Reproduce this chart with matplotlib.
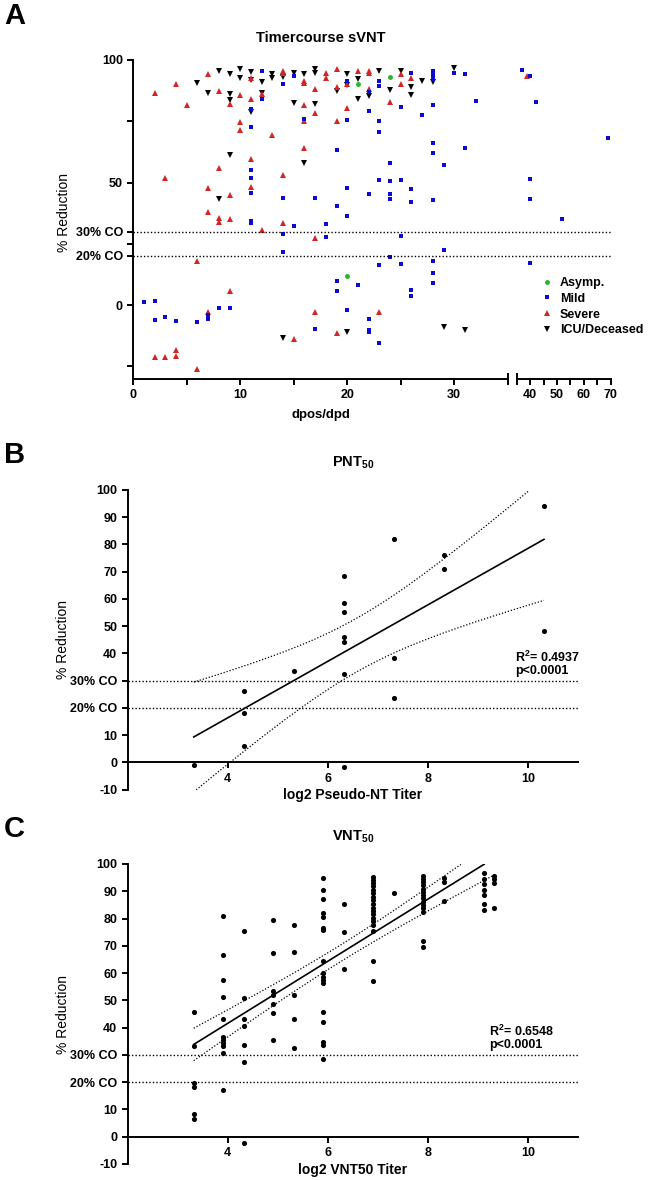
import numpy as np
import matplotlib
matplotlib.use("Agg")
import matplotlib.pyplot as plt
from matplotlib.lines import Line2D

plt.rcParams["font.family"] = ["Liberation Sans", "DejaVu Sans"]
plt.rcParams["font.weight"] = "bold"
plt.rcParams["font.size"] = 9
plt.rcParams["mathtext.fontset"] = "custom"
plt.rcParams["mathtext.rm"] = "Liberation Sans:bold"
plt.rcParams["mathtext.bf"] = "Liberation Sans:bold"
plt.rcParams["axes.linewidth"] = 1.4
for a in ("xtick", "ytick"):
    plt.rcParams[a + ".major.width"] = 1.4
    plt.rcParams[a + ".minor.width"] = 1.4
    plt.rcParams[a + ".major.size"] = 4
    plt.rcParams[a + ".minor.size"] = 4

# ---- panel A: time course (days since positive / since disease onset) ----
asymp_day = [20, 21, 24]
asymp_val = [11.8, 90.2, 92.9]

mild_day = [1, 2, 2, 3, 4, 6, 7, 7, 8, 9,
            11, 11, 11, 11, 11, 11, 11, 12, 12,
            14, 14, 14, 14, 15, 15, 16, 17, 17, 18, 18,
            19, 19, 19, 19, 20, 20, 20, 20, 20, 21,
            22, 22, 22, 22, 22, 22, 23, 23, 23, 23, 23, 23, 23,
            24, 24, 24, 24, 24, 25, 25, 25, 25, 26, 26, 26, 26, 26, 27,
            28, 28, 28, 28, 28, 28, 28, 28, 28, 28, 29, 29, 30, 31, 31, 32,
            37, 40, 40, 40, 40, 42, 52, 69]
mild_val = [1.1, 1.8, -6.1, -4.8, -6.4, -6.9, -4.1, -5.7, -1.2, -1.2,
            80.1, 72.5, 55, 51.7, 45.6, 34.4, 33.6, 95.6, 83.9,
            90.3, 43.8, 29, 21.5, 93.6, 32.2, 76, 43.8, -9.7, 33.2, 27.8,
            63.1, 40.3, 9.7, 5.7, 91.4, 75.6, 47.9, 36.3, -2.2, 8.2,
            87.1, 79.3, 45.4, -5.7, -10.2, -11.2, 91.4, 89.5, 75.2, 70.7, 51, 16.2, -15.5,
            58, 50.6, 45.3, 43.1, 19.5, 80.8, 51.2, 28.3, 16.9, 94.6, 47.3, 41.9, 6.3, 3.8, 77.4,
            95.5, 94, 92.3, 81.8, 66.1, 61.9, 43, 18, 12.9, 9, 57.1, 22.4, 94.8, 94.1, 64.2, 83.3,
            96.1, 93.5, 51.6, 43.3, 17.1, 83, 35, 68]

severe_day = [2, 2, 3, 3, 4, 4, 4, 5, 6, 6,
              7, 7, 7, 7, 8, 8, 8, 8, 9, 9, 9, 9,
              10, 10, 10, 11, 11, 11, 11, 12, 12, 13,
              14, 14, 14, 14, 15, 16, 16, 16, 16, 16,
              17, 17, 17, 17, 18, 18, 19, 19, 19, 19, 20, 20, 21,
              22, 22, 22, 23, 24, 25, 25, 26, 39]
severe_val = [86.7, -21.1, 51.8, -21.1, 90.1, -18.4, -20.7, 81.6, 17.8, -26.1,
              94.3, 47.8, 38, -3, 87.2, 56.1, 35.6, 34, 82, 44.9, 35.2, 5.9,
              85.6, 74.8, 71.6, 92.7, 84.2, 59.5, 48.2, 86.1, 30.5, 69.3,
              95.5, 94.6, 52.9, 33.5, -13.9, 91.6, 90.7, 81.6, 75.2, 64.1,
              88.3, 78.5, 27.2, -2.7, 94.6, 92.7, 96.2, 88.8, 75.2, -11.3, 90.2, 80.3, 95.6,
              95.6, 94.8, 88.3, -2.7, 83, 94.3, 90.1, 92.8, 93.6]

icu_day = [6, 7, 8, 8, 9, 9, 9, 9, 10, 10, 11, 11, 11, 12, 12, 13, 13,
           14, 14, 15, 15, 16, 16, 17, 17, 17, 19, 20, 20, 20, 21, 21, 22, 23,
           24, 25, 26, 26, 27, 28, 29, 30, 31]
icu_val = [90.5, 86.7, 95.4, 43.1, 94.4, 86.3, 83.8, 61.4, 96.5, 92.8, 95.1, 91.8, 78.9,
           90.9, 86.7, 94.3, 92.7, 93.2, -13.6, 94.8, 82.6, 94.3, 57.8, 96.2, 94.8, 82,
           87.2, 94.3, 89.9, -10.9, 92.4, 83.9, 85.3, 95.4,
           87.9, 95.4, 89, 85.7, 91.6, 91.2, -9, 96.6, -10.2]

# ---- panel B: log2 pseudo-NT titer vs % reduction ----
pnt_x = [3.32, 4.32, 4.32, 4.32, 5.32, 6.32, 6.32, 6.32, 6.32, 6.32, 6.32, 6.32,
         7.32, 7.32, 7.32, 8.32, 8.32, 10.32, 10.32]
pnt_y = [-1.0, 26.3, 18.1, 5.8, 33.7, 68.4, 58.5, 55.2, 45.9, 44.1, 32.6, -1.7,
         82.1, 38.3, 23.7, 76.3, 71.0, 94.0, 48.1]

# ---- panel C: log2 VNT50 titer vs % reduction ----
vnt_x = ([3.32] * 6 + [3.91] * 11 + [4.32] * 7 + [4.91] * 7 + [5.32] * 5 + [5.91] * 17
         + [6.32] * 3 + [6.91] * 18 + [7.32] * 1 + [7.91] * 14 + [8.32] * 3
         + [9.12] * 7 + [9.32] * 4)
vnt_y = [45.6, 33.4, 19.6, 18.1, 8.3, 6.4,
         81, 66.5, 57.3, 51.2, 43.3, 36.7, 35.5, 34.2, 33.3, 30.8, 17,
         75.4, 50.7, 43.3, 40.5, 33.7, 27.5, -2.4,
         79.5, 67.5, 53.4, 52.1, 48.5, 45.2, 35.6,
         77.6, 67.8, 51.8, 43.2, 32.4,
         95, 90.6, 87.2, 82.2, 80.4, 76.4, 75.8, 64.4, 59.9, 58.4, 57.5, 56.2, 45.7, 42, 34.6, 33.5, 28.4,
         85.3, 75.2, 61.4,
         95.3, 94.2, 93.0, 91.8, 90.5, 89.3, 88.0, 86.8, 85.5, 84.0, 82.8, 81.5, 80.2, 79.0, 77.8, 75.5, 64.4, 57.1,
         89.4,
         95.6, 94.5, 93.3, 92.2, 91, 89.8, 88.6, 87.4, 86.2, 85, 83.8, 82.5, 71.9, 69.7,
         95, 93.5, 86.6,
         96.7, 94.5, 92.5, 90.5, 88.5, 85.3, 83.1,
         95.6, 94.4, 92.9, 83.7]

W, H = 650, 1180
fig = plt.figure(figsize=(W / 100, H / 100), dpi=100)


def rect(x0, y_top, x1, y_bot):
    return [x0 / W, 1 - y_bot / H, (x1 - x0) / W, (y_bot - y_top) / H]


# ================= A =================
ax1 = fig.add_axes(rect(133.3, 60, 507.7, 378.5))
ax2 = fig.add_axes(rect(516.7, 60, 610.7, 378.5))
ax2.set_facecolor("none")

groups = [
    (asymp_day, asymp_val, "o", "#2db52d", 3.6, "Asymp."),
    (mild_day, mild_val, "s", "#0a0ad0", 3.3, "Mild"),
    (severe_day, severe_val, "^", "#d42424", 3.8, "Severe"),
    (icu_day, icu_val, "v", "black", 3.8, "ICU/Deceased"),
]
handles = []
for ax in (ax1, ax2):
    for d, v, m, c, ms, lab in reversed(groups):
        ax.plot(d, v, ls="none", marker=m, color=c, ms=ms, mew=0)
for d, v, m, c, ms, lab in groups:
    handles.append(Line2D([], [], ls="none", marker=m, color=c, ms=ms, mew=0, label=lab))

for ax in (ax1, ax2):
    ax.set_ylim(-30, 100)
    ax.spines["top"].set_visible(False)
    ax.spines["right"].set_visible(False)
ax1.set_xlim(0, 35)
ax2.set_xlim(35, 70)
ax2.spines["left"].set_visible(False)
ax2.tick_params(axis="y", left=False, labelleft=False)

ax1.set_xticks([0, 10, 20, 30])
ax1.set_xticks([5, 15, 25], minor=True)
ax2.set_xticks([40, 50, 60, 70])
ax2.set_xticks([45, 55, 65], minor=True)
ax1.set_yticks([-25, 0, 20, 25, 30, 50, 75, 100])
ax1.set_yticklabels(["", "0", "20% CO", "", "30% CO", "50", "", "100"])
for ax in (ax1, ax2):
    ax.tick_params(labelsize=9)

# break caps at 35
ax1.plot([1], [0], marker="|", ms=9, mew=1.4, color="k", transform=ax1.transAxes, clip_on=False)
ax2.plot([0], [0], marker="|", ms=9, mew=1.4, color="k", transform=ax2.transAxes, clip_on=False)

span = (610.7 - 133.3) / (507.7 - 133.3)
for lvl in (30, 20):
    ax1.axhline(lvl, xmin=0, xmax=span, ls=(0, (1, 1.5)), color="k", lw=1, clip_on=False)

ax1.set_xlabel("dpos/dpd", fontsize=9.5, fontweight="bold")
ax1.xaxis.label.set_va("center")
ax1.xaxis.set_label_coords(0.5, (378.5 - 415) / 318.5)
ax1.set_ylabel("% Reduction", fontsize=10, fontweight="normal")
ax1.yaxis.label.set_va("center")
ax1.yaxis.set_label_coords((64 - 133.3) / 374.4, 0.52)

fig.text(320.5 / W, 1 - 38 / H, "Timercourse sVNT", ha="center", va="center", fontsize=10.5)
fig.legend(handles=handles, loc="upper left", bbox_to_anchor=(541 / W, 1 - 277 / H),
           bbox_transform=fig.transFigure, frameon=False, fontsize=9, handlelength=1,
           handletextpad=0.5, labelspacing=0.3, borderpad=0, borderaxespad=0)


# ================= B and C =================
def fit_band(x, y, t):
    x = np.asarray(x, float)
    y = np.asarray(y, float)
    n = len(x)
    b, a = np.polyfit(x, y, 1)
    s = np.sqrt(np.sum((y - (a + b * x)) ** 2) / (n - 2))
    sxx = np.sum((x - x.mean()) ** 2)
    xx = np.linspace(x.min(), x.max(), 400)
    yy = a + b * xx
    se = s * np.sqrt(1 / n + (xx - x.mean()) ** 2 / sxx)
    lo, hi = yy - t * se, yy + t * se
    cap = lambda v: np.where(v <= 100, v, np.nan)
    return xx, cap(yy), cap(lo), cap(hi)


def scatter_panel(ax, x, y, t, xlabel, r2, txt_x):
    ax.set_xlim(2, 11)
    ax.set_ylim(-10, 100)
    ax.spines["top"].set_visible(False)
    ax.spines["right"].set_visible(False)
    ax.spines["bottom"].set_position(("data", 0))
    ax.set_xticks([4, 6, 8, 10])
    ax.set_yticks(np.arange(-10, 101, 10))
    ax.set_yticklabels([("30% CO" if v == 30 else "20% CO" if v == 20 else str(v))
                        for v in range(-10, 101, 10)])
    ax.tick_params(labelsize=9)
    for lvl in (30, 20):
        ax.axhline(lvl, ls=(0, (1, 1.5)), color="k", lw=1)
    xx, yy, lo, hi = fit_band(x, y, t)
    ax.plot(xx, yy, color="k", lw=1.2)
    ax.plot(xx, lo, color="k", lw=0.9, ls=(0, (1, 1.5)))
    ax.plot(xx, hi, color="k", lw=0.9, ls=(0, (1, 1.5)))
    ax.plot(x, y, ls="none", marker="o", color="k", ms=3.7, mew=0, clip_on=False)
    ax.text(txt_x, 38.7, "R$^{2}$= " + r2, fontsize=9, va="center", ha="left")
    ax.text(txt_x, 33.6, "p<0.0001", fontsize=9, va="center", ha="left")
    ax.set_xlabel(xlabel, fontsize=10, fontweight="bold")
    ax.xaxis.label.set_va("center")
    ax.xaxis.set_label_coords(0.5, -0.02)
    ax.set_ylabel("% Reduction", fontsize=10, fontweight="normal")
    ax.yaxis.label.set_va("center")
    ax.yaxis.set_label_coords((63 - 127.7) / 450.3, 0.5)


axB = fig.add_axes(rect(127.7, 490, 578, 789.5))
scatter_panel(axB, pnt_x, pnt_y, 2.110, "log2 Pseudo-NT Titer", "0.4937", 9.74)
fig.text(353 / W, 1 - 463 / H, "PNT$_{50}$", ha="center", va="center", fontsize=10.5)

axC = fig.add_axes(rect(127.7, 864, 578, 1164))
scatter_panel(axC, vnt_x, vnt_y, 1.984, "log2 VNT50 Titer", "0.6548", 9.23)
fig.text(353 / W, 1 - 837 / H, "VNT$_{50}$", ha="center", va="center", fontsize=10.5)

# panel letters
for letter, yc in (("A", 16), ("B", 455), ("C", 829)):
    fig.text(4 / W, 1 - yc / H, letter, ha="left", va="center", fontsize=21)

fig.savefig("out.png", dpi=100)
